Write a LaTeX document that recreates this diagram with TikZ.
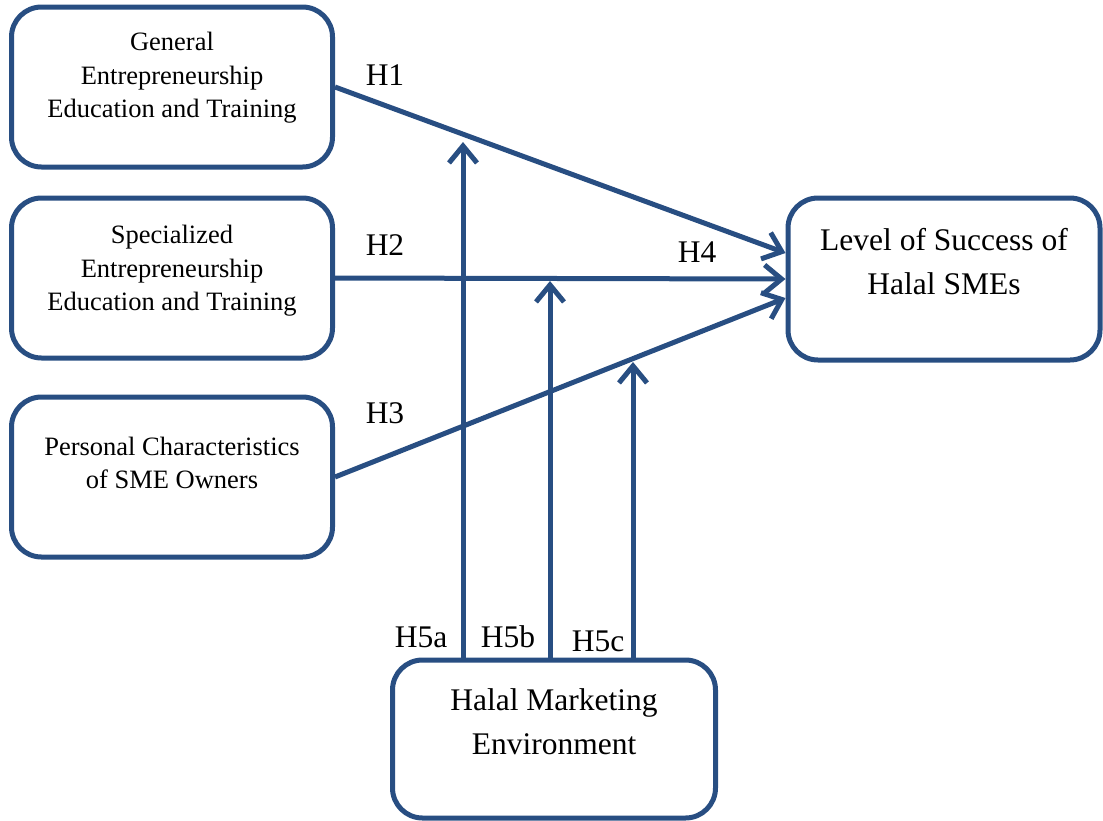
\documentclass[tikz,border=0pt]{standalone}
\usepackage{fontspec}
\setmainfont{Liberation Serif}
\usetikzlibrary{arrows.meta,calc}
\definecolor{frame}{RGB}{40,78,130}
\tikzset{
  box/.style={draw=frame, line width=5pt, rounded corners=30pt, fill=white, inner sep=0pt},
  smalltext/.style={align=center, font=\fontsize{26.5}{33.5}\selectfont, inner sep=0pt},
  bigtext/.style={align=center, font=\fontsize{31.5}{44}\selectfont, inner sep=0pt},
  hlabel/.style={font=\fontsize{31.5}{34}\selectfont, inner sep=0pt},
  arr/.style={draw=frame, line width=5pt, -{Straight Barb[length=17pt,width=28pt,line width=5pt]}}
}
\begin{document}
\begin{tikzpicture}[x=1pt,y=-1pt]
\useasboundingbox (0,0) rectangle (1103,820);
% boxes
\node[box, minimum width=321pt, minimum height=160pt] (b1) at (172,87) {};
\node[box, minimum width=321pt, minimum height=160pt] (b2) at (172,278) {};
\node[box, minimum width=321pt, minimum height=160pt] (b3) at (172,477) {};
\node[box, minimum width=312pt, minimum height=162pt] (r) at (944,279) {};
\node[box, minimum width=323pt, minimum height=158pt] (m) at (554,739) {};
% box texts
\node[smalltext] (b1t) at ([yshift=9pt]b1.center) {General\\Entrepreneurship\\Education and Training};
\node[smalltext] (b2t) at ([yshift=7pt]b2.center) {Specialized\\Entrepreneurship\\Education and Training};
\node[smalltext] (b3t) at ([yshift=14pt]b3.center) {Personal Characteristics\\of SME Owners};
\node[bigtext] (rt) at ([yshift=17pt]r.center) {Level of Success of\\Halal SMEs};
\node[bigtext] (mt) at ([yshift=17pt]m.center) {Halal Marketing\\Environment};
% main arrows
\draw[arr] (b1.east) -- ([yshift=26pt]r.west);
\draw[arr] (b2.east) -- (r.west);
\draw[arr] (b3.east) -- ([yshift=-19pt]r.west);
% moderating arrows
\coordinate (t5a) at (463,142);
\coordinate (t5b) at (550,281);
\coordinate (t5c) at (633,362);
\draw[arr] (m.north -| t5a) -- (t5a);
\draw[arr] (m.north -| t5b) -- (t5b);
\draw[arr] (m.north -| t5c) -- (t5c);
% labels
\node[hlabel] (h1) at (385,75) {H1};
\node[hlabel] (h2) at (385,245) {H2};
\node[hlabel] (h3) at (385,413) {H3};
\node[hlabel] (h4) at (697,252) {H4};
\node[hlabel] (h5a) at (421,637) {H5a};
\node[hlabel] (h5b) at (508,637) {H5b};
\node[hlabel] (h5c) at (598,641) {H5c};
\end{tikzpicture}
\end{document}
